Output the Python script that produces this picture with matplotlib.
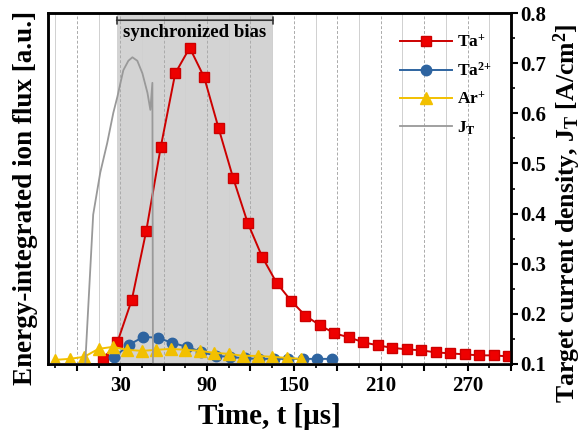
import matplotlib
matplotlib.use("Agg")
import matplotlib.pyplot as plt
import numpy as np

plt.rcParams['font.family'] = ['Liberation Serif', 'DejaVu Serif']
plt.rcParams['font.weight'] = 'bold'
plt.rcParams['mathtext.default'] = 'regular'

# Ta+ flux (a.u.), sampled every 10 us
t_ta1 = [18, 28, 38, 48, 58, 68, 78, 88, 98, 108, 118, 128, 138, 148, 158,
         168, 178, 188, 198, 208, 218, 228, 238, 248, 258, 268, 278, 288, 298]
ta1 = [0.110, 0.143, 0.228, 0.366, 0.533, 0.680, 0.731, 0.672, 0.570, 0.471,
       0.382, 0.314, 0.262, 0.226, 0.196, 0.177, 0.161, 0.153, 0.143, 0.137,
       0.132, 0.129, 0.127, 0.123, 0.121, 0.119, 0.117, 0.117, 0.115]

# Ta2+ flux
t_ta2 = [26, 36, 46, 56, 66, 76, 86, 96, 106, 116, 126, 136, 146, 156, 166, 176]
ta2 = [0.114, 0.138, 0.154, 0.152, 0.142, 0.134, 0.124, 0.116, 0.114, 0.111,
       0.110, 0.110, 0.110, 0.110, 0.110, 0.110]

# Ar+ flux
t_ar = [-15, -5, 5, 15, 25, 35, 45, 55, 65, 75, 85, 95, 105, 115, 125, 135, 145, 155]
ar = [0.108, 0.110, 0.114, 0.130, 0.134, 0.128, 0.126, 0.128, 0.130, 0.128,
      0.126, 0.122, 0.120, 0.116, 0.116, 0.114, 0.112, 0.110]

# target current density J_T [A/cm^2]
t_jt = [-20, 5.8, 11.3, 16.2, 21.0, 25.2, 28.0, 32.1, 35.6, 38.4, 41.8, 45.3,
        48.8, 50.8, 52.2, 52.6, 300]
jt = [0.1, 0.1, 0.398, 0.482, 0.541, 0.601, 0.633, 0.686, 0.705, 0.712, 0.705,
      0.680, 0.641, 0.607, 0.661, 0.1, 0.1]

bias_start, bias_end = 27.5, 135.5

fig = plt.figure(figsize=(5.84, 4.4), dpi=100)
ax = fig.add_axes([0.082, 0.173, 0.793, 0.797])
ax2 = ax.twinx()

ax.set_xlim(-20, 300)
ax.set_ylim(0.1, 0.8)
ax2.set_ylim(0.1, 0.8)

# shaded region + grid
ax.axvspan(bias_start, bias_end, color='#d3d3d3', zorder=0.2, lw=0)
ax.set_xticks(np.arange(0, 301, 30))
ax.set_xticklabels([str(v) if v % 60 == 30 else '' for v in range(0, 301, 30)])
ax.set_xticks(np.arange(-15, 300, 30), minor=True)
ax.grid(axis='x', which='major', ls=(0, (3, 2)), color='#aaaaaa', lw=0.7)
ax.grid(axis='x', which='minor', ls='-', color='#d0d0d0', lw=0.7)
ax.set_axisbelow(True)
ax.set_yticks([])

l1, = ax.plot(t_ta1, ta1, '-s', color='#cc0000', mfc='#ee0000', mec='#cc0000',
              ms=7, lw=1.4, label='Ta$^{+}$', zorder=3)
l2, = ax.plot(t_ta2, ta2, '-o', color='#2e64a0', mfc='#2e64a0', mec='#2e64a0',
              ms=7.5, lw=1.4, label=r'Ta$^{2\!+}$', zorder=3)
l3, = ax.plot(t_ar, ar, '-^', color='#f2c000', mfc='#f2c000', mec='#f2c000',
              ms=8.5, lw=1.4, label='Ar$^{+}$', zorder=3)
l4, = ax2.plot(t_jt, jt, '-', color='#999999', lw=1.3, label='J$_{T}$')

# synchronized bias bracket
ax.annotate('', xy=(bias_start, 0.786), xytext=(bias_end, 0.786),
            arrowprops=dict(arrowstyle='|-|,widthA=0.25,widthB=0.25', color='#333333', lw=1.2,
                            shrinkA=0, shrinkB=0))
ax.text((bias_start + bias_end) / 2, 0.762, 'synchronized bias', ha='center', va='center',
        fontsize=13.5, fontweight='bold')

for a in (ax, ax2):
    for s in a.spines.values():
        s.set_linewidth(1.8)

ax.tick_params(axis='x', which='major', direction='out', length=5, width=1.5, labelsize=15, pad=4)
ax.tick_params(axis='x', which='minor', direction='out', length=3, width=1.2)
ax2.set_yticks(np.arange(0.1, 0.81, 0.1))
ax2.set_yticklabels(['%.1f' % v for v in np.arange(0.1, 0.81, 0.1)])
ax2.set_yticks(np.arange(0.15, 0.8, 0.1), minor=True)
ax2.tick_params(axis='y', which='major', direction='out', length=5, width=1.5, labelsize=15, pad=2)
ax2.tick_params(axis='y', which='minor', direction='out', length=3, width=1.2)

ax.set_xlabel('Time, t [μs]', fontsize=21, fontweight='bold')
ax.xaxis.set_label_coords(0.479, -0.111)
ax.set_ylabel('Energy-integrated ion flux [a.u.]', fontsize=19.5, fontweight='bold')
ax.yaxis.set_label_coords(-0.022, 0.473)
ax2.set_ylabel('Target current density, J$_{T}$ [A/cm$^{2}$]', fontsize=18.5,
               fontweight='bold')
ax2.yaxis.set_label_coords(1.088, 0.43)

ax2.legend(handles=[l1, l2, l3, l4], loc='upper left', bbox_to_anchor=(0.745, 0.96),
           frameon=False, fontsize=12.5, handlelength=3, labelspacing=0.65,
           handletextpad=0.3, borderaxespad=0)

fig.savefig('out.png', dpi=100)
